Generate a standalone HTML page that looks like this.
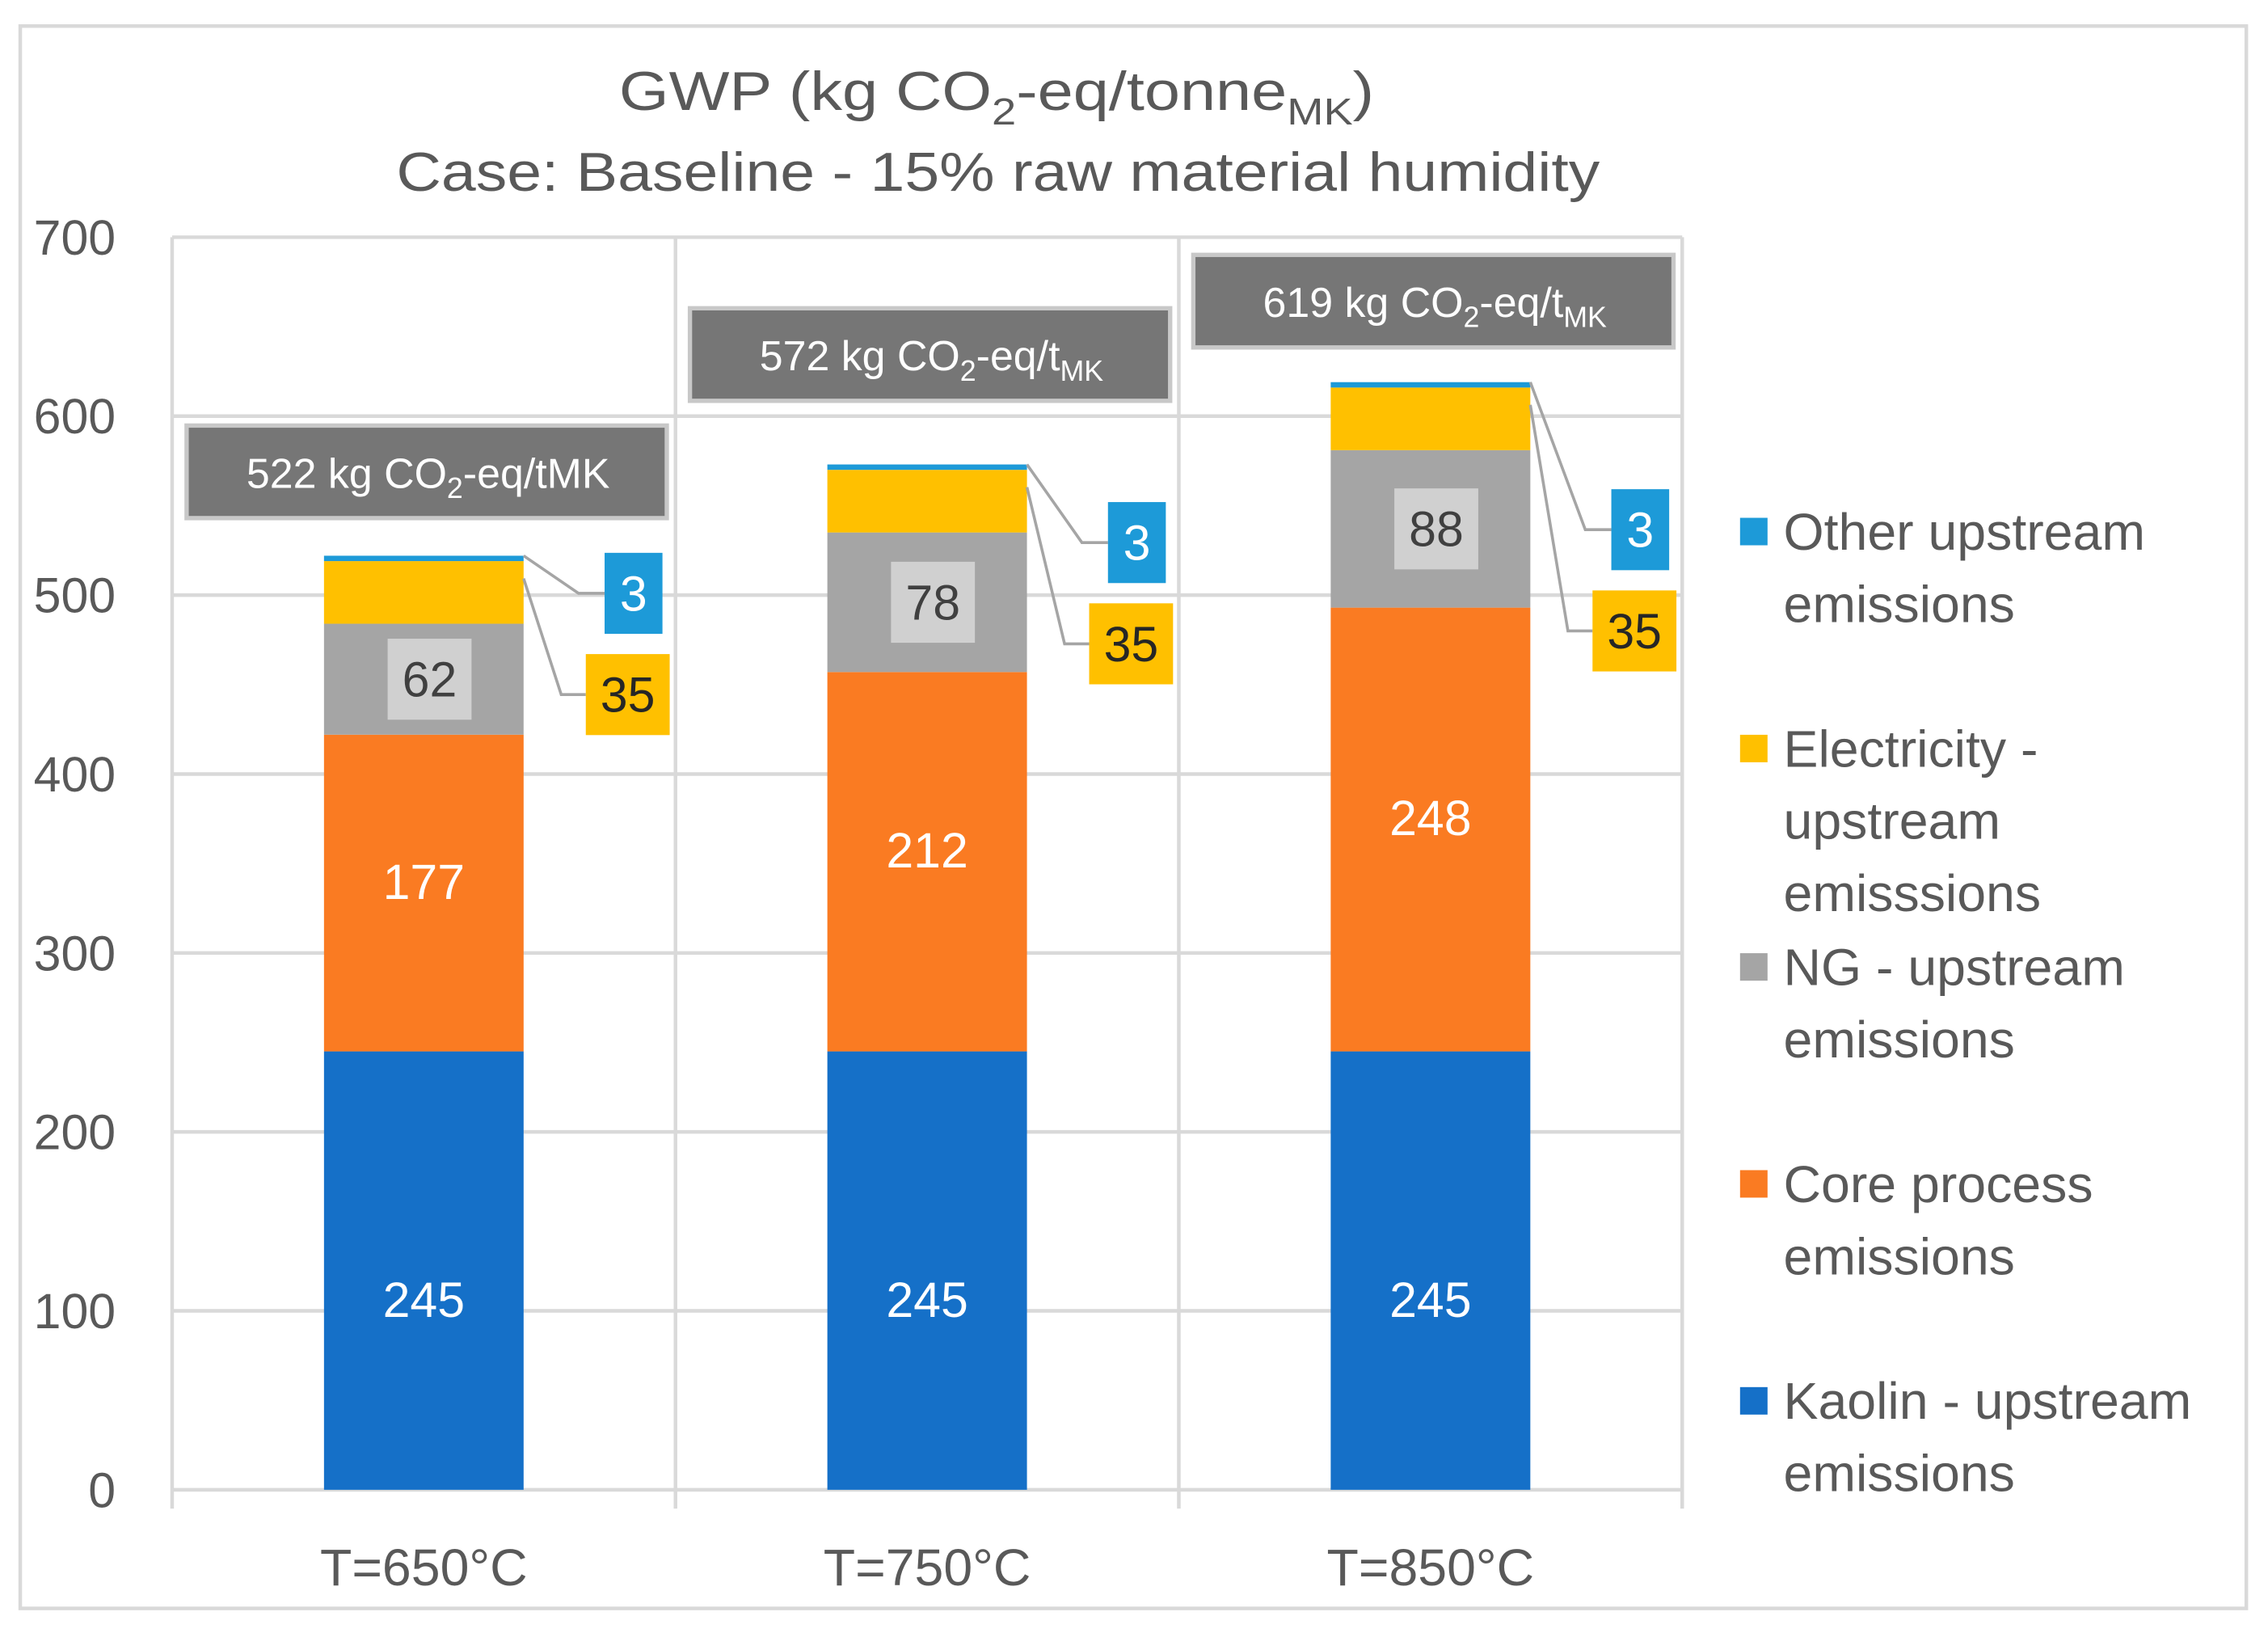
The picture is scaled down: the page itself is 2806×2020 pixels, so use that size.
<!DOCTYPE html>
<html><head><meta charset="utf-8"><style>
html,body{margin:0;padding:0;background:#fff}
svg{display:block}
text{font-family:"Liberation Sans",sans-serif}
</style></head><body>
<svg id="chart" width="2806" height="2020" viewBox="0 0 1568 1129" preserveAspectRatio="none" xmlns="http://www.w3.org/2000/svg">
<rect x="14" y="18" width="1539" height="1094" fill="#fff" stroke="#d9d9d9" stroke-width="2.5"/>
<text x="689" y="76" text-anchor="middle" font-size="38" fill="#595959" textLength="522" lengthAdjust="spacingAndGlyphs">GWP (kg CO<tspan font-size="26" dy="10">2</tspan><tspan dy="-10">-eq/tonne</tspan><tspan font-size="26" dy="10">MK</tspan><tspan dy="-10">)</tspan></text>
<text x="690" y="132" text-anchor="middle" font-size="38" fill="#595959" textLength="832" lengthAdjust="spacingAndGlyphs">Case: Baseline - 15% raw material humidity</text>
<g id="grid"></g><g id="bars"></g><g id="labels"></g><g id="legend"></g>
</svg>
<script>
const categories = ["T=650°C","T=750°C","T=850°C"];
const kaolin = [245,245,245];
const core = [177,212,248];
const ng = [62,78,88];
const elec = [35,35,35];
const other = [3,3,3];
const totals = ["522 kg CO₂-eq/tMK","572 kg CO₂-eq/tMK","619 kg CO₂-eq/tMK"];
const yTicks = [0,100,200,300,400,500,600,700];
const seriesNames = ["Other upstream|emissions","Electricity -|upstream|emisssions","NG - upstream|emissions","Core process|emissions","Kaolin - upstream|emissions"];

const NS="http://www.w3.org/2000/svg";
const plotL=119, plotR=1163, plotT=164, plotB=1030, yMax=700;
const y=v=>plotB-v*(plotB-plotT)/yMax;
const catW=(plotR-plotL)/categories.length;
const xC=i=>plotL+catW*(i+0.5);
const barW=138;
const calloutShift=[0,28,76];
const totalShift=[-90,-108,-88];
const colors={kaolin:"#1570c8",core:"#fa7b22",ng:"#a5a5a5",elec:"#ffc000",other:"#1d9ad8"};
function mk(tag,attrs,parent,txt){const e=document.createElementNS(NS,tag);for(const k in attrs)e.setAttribute(k,attrs[k]);if(txt!==undefined)e.textContent=txt;parent.appendChild(e);return e;}
const grid=document.getElementById('grid'),bars=document.getElementById('bars'),labels=document.getElementById('labels'),legend=document.getElementById('legend');

yTicks.forEach(t=>{
  const l=mk('line',{x1:plotL,x2:plotR,y1:y(t),y2:y(t),stroke:"#d9d9d9","stroke-width":2.5},grid);
  
  
  const tx=mk('text',{x:80,y:y(t)+12,"text-anchor":"end","font-size":34,fill:"#595959"},grid,String(t));
  
  
});
for(let i=0;i<=categories.length;i++){
  const x=plotL+catW*i;
  const l=mk('line',{x1:x,x2:x,y1:plotT,y2:plotB+13,stroke:"#d9d9d9","stroke-width":2.5},grid);
  
  
}
categories.forEach((c,i)=>{
  const t=mk('text',{x:xC(i),y:1096,"text-anchor":"middle","font-size":36,fill:"#595959"},labels,c);
  
  
});

const series=[["kaolin",kaolin],["core",core],["ng",ng],["elec",elec],["other",other]];
categories.forEach((c,i)=>{
  let base=0;const x0=xC(i)-barW/2;const segs={};
  series.forEach(([name,arr])=>{
    const v=arr[i];
    const r=mk('rect',{x:x0,y:y(base+v),width:barW,height:y(base)-y(base+v),fill:colors[name]},bars);
    
    
    segs[name]={lo:base,hi:base+v};base+=v;
  });
  const top=base;
  const lk=mk('text',{x:xC(i),y:y(segs.kaolin.lo+kaolin[i]/2)+32,"text-anchor":"middle","font-size":34,fill:"#fff"},labels,kaolin[i]);
  
  
  const lc=mk('text',{x:xC(i),y:y(segs.core.lo+core[i]/2)+4,"text-anchor":"middle","font-size":34,fill:"#fff"},labels,core[i]);
  
  
  const ngy=y(segs.ng.lo+ng[i]/2);
  const nb=mk('rect',{x:xC(i)-25,y:ngy-28,width:58,height:56,fill:"#d0d0d0"},labels);
  
  
  const ln=mk('text',{x:xC(i)+4,y:ngy+12,"text-anchor":"middle","font-size":34,fill:"#404040"},labels,ng[i]);
  
  
  const xr=x0+barW;
  const oy=y(top)+12+calloutShift[i], ey=oy+58;
  const l1=mk('polyline',{points:`${xr},${y(top)} ${xr+38},${oy+14} ${xr+56},${oy+14}`,fill:"none",stroke:"#a5a5a5","stroke-width":2},labels);
  
  
  const l2=mk('polyline',{points:`${xr},${y(segs.elec.hi)+12} ${xr+26},${ey+26} ${xr+43},${ey+26}`,fill:"none",stroke:"#a5a5a5","stroke-width":2},labels);
  
  
  const ob=mk('rect',{x:xr+56,y:oy-14,width:40,height:56,fill:colors.other},labels);
  
  
  const ot=mk('text',{x:xr+76,y:oy+26,"text-anchor":"middle","font-size":34,fill:"#fff"},labels,other[i]);
  
  
  const eb=mk('rect',{x:xr+43,y:ey-2,width:58,height:56,fill:colors.elec},labels);
  
  
  const et=mk('text',{x:xr+72,y:ey+38,"text-anchor":"middle","font-size":34,fill:"#262626"},labels,elec[i]);
  
  
  const ty=y(top)+totalShift[i];
  const tb=mk('rect',{x:xC(i)-164,y:ty,width:332,height:64,fill:"#767676",stroke:"#c8c8c8","stroke-width":3},labels);
  
  
  const parts=totals[i].split("CO₂");const subMK=i>0;
  const tt=mk('text',{x:xC(i)+3,y:ty+43,"text-anchor":"middle","font-size":29,fill:"#fff"},labels);
  
  
  tt.appendChild(document.createTextNode(parts[0]+"CO"));
  mk('tspan',{"font-size":20,dy:7},tt,"2");
  if(subMK){mk('tspan',{dy:-7},tt,"-eq/t");mk('tspan',{"font-size":20,dy:7},tt,"MK");}
  else mk('tspan',{dy:-7},tt,parts[1]);
});

const legColors=[colors.other,colors.elec,colors.ng,colors.core,colors.kaolin];
const legY=[368,518,669,819,969];
seriesNames.forEach((n,k)=>{
  const g=mk('g',{},legend);
  
  
  mk('rect',{x:1203,y:legY[k]-10,width:19,height:19,fill:legColors[k]},g);
  n.split("|").forEach((line,j)=>{
    mk('text',{x:1233,y:legY[k]+12+j*50,"font-size":36,fill:"#595959"},g,line);
  });
});
</script>
</body></html>
